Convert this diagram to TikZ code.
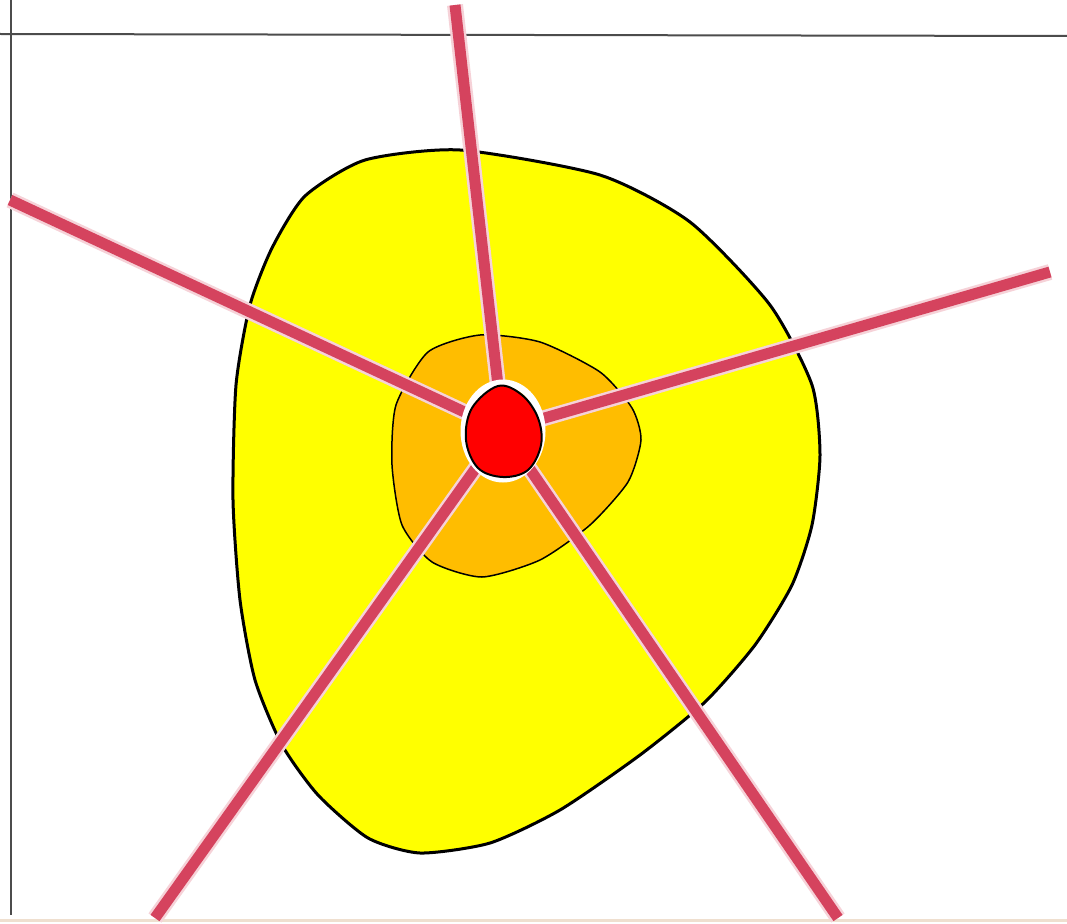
\documentclass[tikz,border=0pt]{standalone}
\usepackage{tikz}
\usepackage{xcolor}
\definecolor{raycol}{HTML}{D5435E}
\definecolor{rayedge}{HTML}{F6D2D8}
\definecolor{zoneout}{HTML}{FFFF00}
\definecolor{zonein}{HTML}{FFBD00}
\definecolor{core}{HTML}{FF0000}

\begin{document}
\begin{tikzpicture}[x=1pt, y=-1pt]
    \useasboundingbox (0,0) rectangle (1067,923);
    \fill[white] (0,0) rectangle (1067,923);

    % Frame lines
    \draw[line width=2pt, black!70] (0,34) -- (1067,36);
    \draw[line width=1.5pt, black!70] (11,0) -- (11,915);
    \draw[line width=3pt, brown!25] (0,920) -- (1067,920);

    % Outer zone
    \draw[line width=3pt, black, fill=zoneout]
        plot[smooth cycle, tension=0.4] coordinates {
        (365,160) (460,150) (600,175) (690,222) (770,305) (812,385)
        (820,455) (812,525) (792,585) (755,645) (705,702) (640,755)
        (560,810) (490,843) (420,853) (368,838) (318,795) (282,745)
        (255,680) (240,600) (233,500) (236,385) (250,305) (272,248)
        (305,196)};

    % Inner zone
    \draw[line width=1.5pt, black, fill=zonein]
        plot[smooth cycle, tension=0.4] coordinates {
        (428,352) (480,335) (540,342) (600,372) (632,408) (641,440)
        (628,482) (590,525) (540,560) (482,577) (432,562) (402,525)
        (392,465) (396,405)};

    % Rays from the centre
    \coordinate (mid) at (503,430);
    \coordinate (rayN) at (455,5);
    \coordinate (rayW) at (10,200);
    \coordinate (rayE) at (1050,272);
    \coordinate (raySW) at (155,918);
    \coordinate (raySE) at (838,918);
    \foreach \tip in {rayN,rayW,rayE,raySW,raySE} {
        \draw[line width=16pt, rayedge] (mid) -- (\tip);
        \draw[line width=11pt, raycol] (mid) -- (\tip);
    }

    % Core
    \draw[line width=7pt, white] (503,431) ellipse (39 and 48);
    \draw[line width=2pt, black, fill=core]
        plot[smooth cycle, tension=0.6] coordinates {
        (498,386) (522,395) (538,418) (541,445) (528,470) (503,477)
        (478,468) (466,440) (472,408)};
\end{tikzpicture}
\end{document}
